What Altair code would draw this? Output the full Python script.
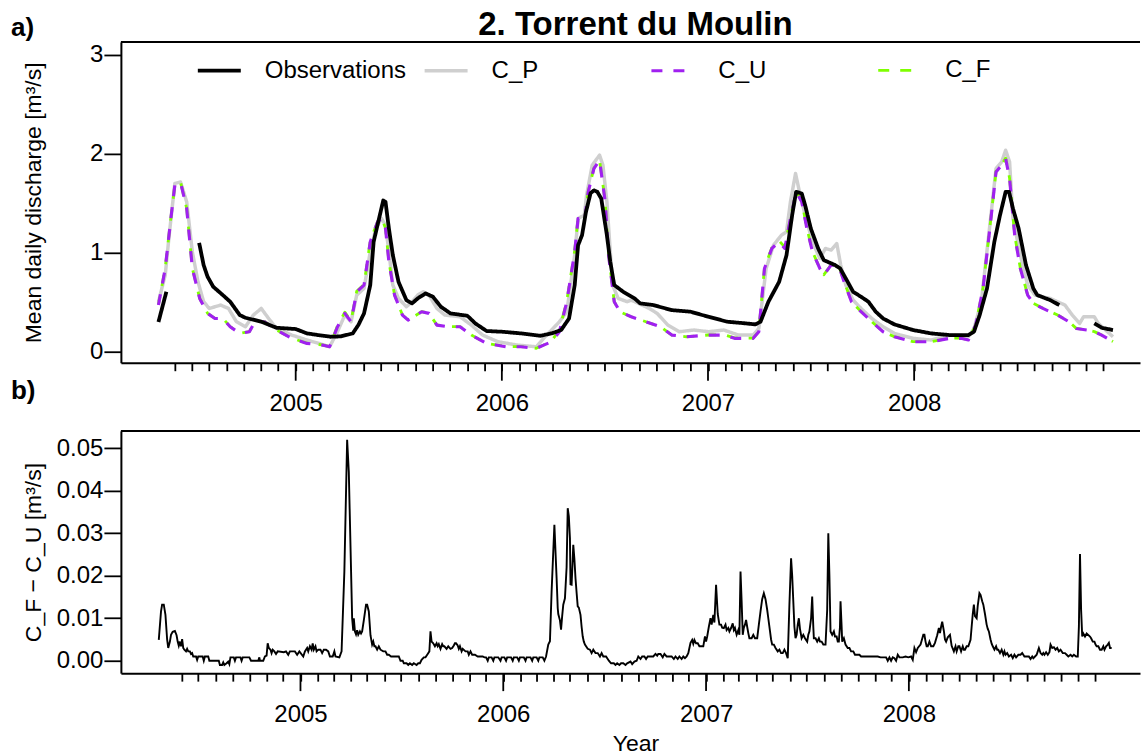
import altair as alt
import pandas as pd

FONT = "Liberation Sans"
BASE = pd.Timestamp("2004-01-01")
EPOCH = pd.Timestamp("1970-01-01")

# ---------------- data (x = days since 2004-01-01) ----------------
# Observations (three recorded segments)
obs1_days = [123, 137]
obs1_vals = [0.30, 0.605]
obs2_days = [195, 203, 210, 220, 237, 250, 267, 277, 305, 332,
             366, 386, 406, 428, 446, 467, 477, 487, 498, 504,
             515, 521, 525, 531, 538, 548, 562, 572, 582, 596,
             609, 623, 640, 670, 684, 704, 731, 765, 799, 819,
             836, 850, 860, 866, 873, 880, 888, 894, 900, 907,
             917, 923, 930, 946, 966, 976, 999, 1032, 1065, 1097,
             1130, 1163, 1180, 1189, 1203, 1222, 1235, 1245, 1252, 1262,
             1268, 1278, 1291, 1301, 1321, 1330, 1340, 1353, 1367, 1380,
             1393, 1406, 1426, 1459, 1491, 1524, 1557, 1567, 1577, 1590,
             1603, 1613, 1623, 1629, 1636, 1646, 1659, 1672, 1679, 1702,
             1718]
obs2_vals = [1.10, 0.875, 0.757, 0.656, 0.572, 0.505, 0.37, 0.343, 0.303, 0.242,
             0.229, 0.185, 0.168, 0.151, 0.155, 0.185, 0.27, 0.387, 0.673, 1.11,
             1.38, 1.527, 1.514, 1.245, 0.975, 0.706, 0.521, 0.488, 0.538, 0.589,
             0.555, 0.454, 0.387, 0.363, 0.286, 0.209, 0.202, 0.185, 0.161, 0.185,
             0.219, 0.336, 0.673, 1.076, 1.177, 1.413, 1.60, 1.63, 1.615, 1.547,
             1.177, 0.908, 0.673, 0.605, 0.538, 0.488, 0.471, 0.42, 0.404, 0.353,
             0.303, 0.286, 0.276, 0.303, 0.505, 0.706, 0.975, 1.379, 1.615, 1.598,
             1.48, 1.245, 1.043, 0.925, 0.875, 0.841, 0.74, 0.605, 0.555, 0.505,
             0.404, 0.336, 0.276, 0.219, 0.185, 0.168, 0.168, 0.202, 0.37, 0.639,
             1.11, 1.379, 1.615, 1.615, 1.446, 1.245, 0.875, 0.639, 0.572, 0.521,
             0.471]
obs3_days = [1780, 1793, 1813]
obs3_vals = [0.286, 0.242, 0.219]

# C_P
cp_days = [123, 135, 142, 152, 162, 173, 183, 193, 203, 213,
           223, 233, 247, 261, 277, 291, 305, 318, 332, 359,
           386, 413, 426, 440, 453, 464, 474, 487, 498, 508,
           518, 525, 531, 538, 548, 562, 572, 582, 592, 602,
           616, 630, 657, 677, 697, 724, 758, 792, 805, 819,
           833, 846, 860, 866, 877, 881, 891, 904, 910, 917,
           927, 937, 953, 960, 973, 992, 1006, 1025, 1045, 1071,
           1097, 1124, 1150, 1176, 1186, 1199, 1212, 1226, 1235, 1242,
           1251, 1258, 1268, 1281, 1294, 1304, 1314, 1324, 1331, 1340,
           1353, 1367, 1386, 1406, 1426, 1459, 1491, 1524, 1541, 1557,
           1567, 1580, 1597, 1606, 1616, 1623, 1630, 1636, 1649, 1662,
           1675, 1702, 1728, 1741, 1754, 1761, 1780, 1787, 1800, 1813]
cp_vals = [0.505, 0.774, 1.177, 1.699, 1.715, 1.514, 1.009, 0.706, 0.505, 0.437,
           0.454, 0.471, 0.437, 0.303, 0.252, 0.37, 0.437, 0.336, 0.235, 0.168,
           0.118, 0.074, 0.05, 0.202, 0.37, 0.303, 0.572, 0.639, 1.009, 1.245,
           1.345, 1.278, 1.009, 0.673, 0.538, 0.454, 0.505, 0.572, 0.605, 0.572,
           0.437, 0.37, 0.353, 0.269, 0.168, 0.101, 0.067, 0.05, 0.135, 0.219,
           0.303, 0.404, 0.975, 1.345, 1.379, 1.58, 1.884, 1.985, 1.884, 1.514,
           0.673, 0.538, 0.505, 0.521, 0.488, 0.437, 0.387, 0.269, 0.202, 0.219,
           0.202, 0.219, 0.168, 0.168, 0.235, 0.841, 1.076, 1.177, 1.211, 1.514,
           1.8, 1.615, 1.379, 1.11, 0.942, 1.043, 1.026, 1.093, 0.875, 0.673,
           0.521, 0.437, 0.336, 0.252, 0.185, 0.135, 0.118, 0.168, 0.168, 0.151,
           0.235, 0.505, 1.379, 1.85, 1.917, 2.035, 1.917, 1.345, 0.975, 0.673,
           0.572, 0.538, 0.471, 0.37, 0.286, 0.353, 0.353, 0.286, 0.219, 0.151]

# C_U and C_F (same dates)
cu_days = [123, 135, 145, 152, 162, 173, 183, 196, 210, 223,
           237, 250, 267, 284, 294, 311, 332, 359, 386, 413,
           426, 440, 453, 464, 474, 487, 498, 511, 518, 525,
           531, 541, 555, 565, 575, 589, 602, 616, 636, 657,
           677, 704, 738, 765, 792, 805, 819, 833, 846, 860,
           866, 877, 884, 894, 904, 914, 920, 930, 940, 960,
           986, 1012, 1032, 1058, 1097, 1124, 1143, 1176, 1186, 1196,
           1209, 1222, 1232, 1242, 1252, 1262, 1271, 1281, 1294, 1301,
           1314, 1327, 1337, 1350, 1367, 1386, 1406, 1426, 1459, 1491,
           1524, 1544, 1557, 1570, 1583, 1597, 1606, 1616, 1623, 1630,
           1639, 1649, 1662, 1672, 1689, 1715, 1735, 1748, 1767, 1780,
           1793, 1813]
cu_vals = [0.471, 0.841, 1.345, 1.682, 1.715, 1.446, 0.841, 0.538, 0.387, 0.336,
           0.336, 0.252, 0.185, 0.202, 0.303, 0.303, 0.219, 0.135, 0.084, 0.067,
           0.05, 0.252, 0.387, 0.303, 0.605, 0.673, 1.11, 1.312, 1.345, 1.245,
           0.908, 0.572, 0.37, 0.32, 0.353, 0.404, 0.387, 0.269, 0.252, 0.252,
           0.168, 0.084, 0.05, 0.05, 0.034, 0.067, 0.101, 0.202, 0.505, 1.009,
           1.345, 1.312, 1.615, 1.85, 1.934, 1.514, 0.975, 0.505, 0.404, 0.353,
           0.303, 0.252, 0.168, 0.151, 0.168, 0.168, 0.135, 0.135, 0.202, 0.841,
           1.043, 1.11, 1.043, 1.345, 1.615, 1.514, 1.245, 1.009, 0.841, 0.774,
           0.875, 0.875, 0.706, 0.505, 0.404, 0.303, 0.202, 0.151, 0.101, 0.101,
           0.135, 0.135, 0.118, 0.269, 0.639, 1.345, 1.816, 1.884, 1.951, 1.749,
           1.177, 0.841, 0.572, 0.488, 0.437, 0.37, 0.303, 0.235, 0.219, 0.202,
           0.168, 0.101]
cf_vals = [0.476, 0.846, 1.350, 1.684, 1.716, 1.447, 0.842, 0.539, 0.388, 0.337,
           0.337, 0.253, 0.186, 0.203, 0.304, 0.305, 0.221, 0.137, 0.086, 0.069,
           0.051, 0.262, 0.400, 0.310, 0.610, 0.680, 1.118, 1.314, 1.347, 1.247,
           0.910, 0.573, 0.371, 0.321, 0.354, 0.405, 0.388, 0.270, 0.253, 0.253,
           0.169, 0.085, 0.051, 0.051, 0.035, 0.068, 0.110, 0.220, 0.515, 1.020,
           1.355, 1.322, 1.620, 1.853, 1.936, 1.516, 0.976, 0.505, 0.404, 0.353,
           0.303, 0.252, 0.168, 0.151, 0.169, 0.172, 0.139, 0.138, 0.205, 0.846,
           1.050, 1.120, 1.056, 1.354, 1.625, 1.520, 1.249, 1.011, 0.843, 0.776,
           0.878, 0.878, 0.708, 0.507, 0.405, 0.304, 0.203, 0.152, 0.102, 0.102,
           0.137, 0.138, 0.120, 0.272, 0.644, 1.352, 1.823, 1.889, 1.955, 1.751,
           1.178, 0.842, 0.573, 0.489, 0.438, 0.371, 0.304, 0.236, 0.220, 0.203,
           0.169, 0.103]

# C_F - C_U difference (panel b): (day, value)
diff_points = [
    (111, 0.0049), (115, 0.0116), (117, 0.0132), (120, 0.0132), (123, 0.0108), (126, 0.005),
    (128, 0.003), (131, 0.0045), (133, 0.0061), (136, 0.0068), (140, 0.007), (143, 0.006),
    (145, 0.0045), (147, 0.0035), (149, 0.0045), (151, 0.0034), (153, 0.0051), (155, 0.003),
    (157, 0.0026), (160, 0.0022), (162, 0.0028), (164, 0.0022), (167, 0.0022), (169, 0.0016),
    (171, 0.0018), (173, 0.001), (175, 0.001), (178, 0.001), (180, 0.0002), (182, 0.001),
    (190, 0.001), (192, 0.0), (194, 0.001), (200, 0.001), (202, 0.0), (219, 0.0),
    (221, -0.001), (225, -0.001), (227, -0.0004), (229, -0.001), (233, -0.0006), (236, -0.0002),
    (238, -0.0008), (240, 0.0008), (246, 0.0008), (248, 0.0), (250, 0.0008), (258, 0.0008),
    (260, 0.0), (262, 0.0008), (274, 0.0008), (277, 0.0), (290, 0.0), (292, 0.0008),
    (293, 0.0), (299, 0.0), (302, 0.001), (305, 0.0012), (307, 0.0041), (309, 0.003),
    (312, 0.0026), (314, 0.0018), (316, 0.0026), (319, 0.0022), (322, 0.0016), (325, 0.0022),
    (336, 0.002), (340, 0.0022), (344, 0.0014), (347, 0.0022), (356, 0.0022), (360, 0.0014),
    (364, 0.0022), (371, 0.001), (374, 0.0022), (378, 0.003), (380, 0.0022), (383, 0.0034),
    (386, 0.0026), (388, 0.0041), (390, 0.0026), (393, 0.0034), (395, 0.0022), (398, 0.0026),
    (402, 0.0026), (405, 0.0018), (408, 0.0026), (412, 0.0026), (416, 0.0022), (419, 0.001),
    (424, 0.001), (427, 0.0022), (429, 0.001), (436, 0.0008), (440, 0.0022), (445, 0.021),
    (450, 0.052), (453, 0.0445), (459, 0.01), (461, 0.0071), (462, 0.01), (464, 0.0069),
    (466, 0.0062), (468, 0.0072), (470, 0.0061), (473, 0.0069), (475, 0.0064), (477, 0.0069),
    (480, 0.0095), (484, 0.0132), (486, 0.0132), (489, 0.0116), (492, 0.006), (495, 0.0038),
    (497, 0.0045), (499, 0.0034), (501, 0.0034), (504, 0.0026), (507, 0.0034), (510, 0.0026),
    (515, 0.0022), (519, 0.0022), (522, 0.0014), (525, 0.0014), (529, 0.001), (543, 0.001),
    (546, 0.0), (550, 0.0), (552, -0.0006), (557, -0.0006), (560, -0.001), (563, -0.0006),
    (567, -0.001), (570, -0.0006), (575, -0.001), (578, -0.0006), (581, -0.0006), (584, 0.0002),
    (588, 0.0008), (591, 0.0008), (595, 0.0016), (598, 0.0022), (600, 0.0069), (602, 0.0045),
    (605, 0.0041), (608, 0.0034), (611, 0.0041), (613, 0.0034), (615, 0.0039), (618, 0.0028),
    (621, 0.0039), (623, 0.0034), (625, 0.0034), (629, 0.0028), (632, 0.0034), (636, 0.0028),
    (639, 0.003), (642, 0.0036), (644, 0.0041), (646, 0.0041), (649, 0.0036), (651, 0.0028),
    (653, 0.0034), (656, 0.0022), (658, 0.0028), (663, 0.0022), (667, 0.0022), (669, 0.0014),
    (672, 0.0022), (675, 0.0014), (680, 0.0014), (685, 0.001), (694, 0.001), (697, 0.0008),
    (700, 0.0008), (703, 0.0), (705, 0.0008), (710, 0.0008), (713, 0.0), (715, 0.0008),
    (722, 0.0008), (726, 0.0), (728, 0.0008), (733, 0.0008), (736, 0.0), (738, 0.0008),
    (745, 0.0008), (748, 0.0), (750, 0.0008), (756, 0.0008), (759, 0.0), (761, 0.0008),
    (768, 0.0008), (771, 0.0), (773, 0.0008), (780, 0.0008), (783, 0.0), (785, 0.0008),
    (791, 0.0008), (794, 0.0), (796, 0.0008), (802, 0.0008), (805, 0.0), (808, 0.001),
    (812, 0.0038), (815, 0.0046), (818, 0.0163), (823, 0.032), (827, 0.0194), (829, 0.0124),
    (830, 0.011), (833, 0.0095), (835, 0.0073), (837, 0.0105), (839, 0.0132), (842, 0.0147),
    (845, 0.022), (847, 0.0359), (849, 0.034), (851, 0.0288), (852, 0.018), (854, 0.0179),
    (856, 0.024), (857, 0.0273), (859, 0.024), (861, 0.0194), (863, 0.016), (865, 0.0128),
    (867, 0.0125), (870, 0.0108), (872, 0.008), (874, 0.0057), (876, 0.0045), (878, 0.0038),
    (880, 0.0034), (883, 0.0028), (887, 0.0026), (890, 0.0018), (893, 0.0026), (897, 0.0018),
    (901, 0.0018), (905, 0.001), (908, 0.0018), (911, 0.001), (916, 0.001), (921, 0.0),
    (925, -0.0006), (930, -0.0006), (933, -0.001), (936, -0.0006), (940, -0.001), (943, -0.0006),
    (947, -0.0006), (951, -0.001), (954, -0.0006), (960, -0.0002), (963, -0.0008), (967, -0.0002),
    (971, 0.0), (974, 0.001), (978, 0.0004), (981, 0.001), (985, 0.001), (988, 0.0004),
    (991, 0.001), (1001, 0.001), (1005, 0.0016), (1008, 0.0012), (1010, 0.0016), (1014, 0.0016),
    (1018, 0.0008), (1021, 0.0016), (1025, 0.001), (1034, 0.001), (1038, 0.0004), (1041, 0.001),
    (1045, 0.0004), (1048, 0.001), (1052, 0.0004), (1055, 0.001), (1058, 0.0006), (1061, 0.001),
    (1064, 0.0018), (1066, 0.003), (1068, 0.0042), (1071, 0.0049), (1073, 0.004), (1075, 0.0049),
    (1078, 0.0041), (1081, 0.0041), (1084, 0.0034), (1091, 0.0034), (1094, 0.0057), (1096, 0.0045),
    (1098, 0.0057), (1101, 0.008), (1104, 0.01), (1106, 0.0085), (1109, 0.0108), (1111, 0.009),
    (1114, 0.0179), (1117, 0.011), (1120, 0.0085), (1123, 0.0085), (1125, 0.0078), (1128, 0.0077),
    (1131, 0.0085), (1133, 0.0072), (1136, 0.0077), (1138, 0.0069), (1141, 0.0077), (1144, 0.0088),
    (1146, 0.0072), (1148, 0.0077), (1151, 0.0061), (1154, 0.0072), (1156, 0.0061), (1158, 0.021),
    (1160, 0.014), (1162, 0.0061), (1164, 0.0078), (1166, 0.0085), (1168, 0.0096), (1170, 0.008),
    (1172, 0.0065), (1174, 0.0053), (1178, 0.0053), (1181, 0.0061), (1184, 0.0053), (1188, 0.0053),
    (1191, 0.0085), (1194, 0.0116), (1197, 0.0145), (1200, 0.0159), (1203, 0.0145), (1206, 0.012),
    (1208, 0.01), (1211, 0.007), (1213, 0.005), (1215, 0.0038), (1218, 0.0038), (1221, 0.003),
    (1225, 0.0022), (1228, 0.0026), (1231, 0.0018), (1234, 0.0018), (1237, 0.0026), (1240, 0.0018),
    (1243, 0.0006), (1246, 0.0132), (1249, 0.0241), (1251, 0.02), (1253, 0.014), (1255, 0.008),
    (1257, 0.0053), (1259, 0.0061), (1261, 0.0085), (1263, 0.01), (1265, 0.0075), (1268, 0.0053),
    (1271, 0.0061), (1274, 0.0053), (1278, 0.0045), (1280, 0.0061), (1282, 0.0069), (1285, 0.01),
    (1287, 0.0151), (1289, 0.008), (1290, 0.0053), (1293, 0.0053), (1296, 0.0045), (1299, 0.0053),
    (1301, 0.0045), (1304, 0.0045), (1307, 0.0038), (1311, 0.0038), (1314, 0.012), (1316, 0.03),
    (1318, 0.02), (1320, 0.0069), (1323, 0.0061), (1326, 0.0069), (1328, 0.0057), (1331, 0.0057),
    (1333, 0.0045), (1335, 0.0045), (1337, 0.008), (1338, 0.014), (1340, 0.008), (1341, 0.0045),
    (1344, 0.0053), (1347, 0.0038), (1351, 0.003), (1354, 0.003), (1357, 0.0022), (1361, 0.0022),
    (1364, 0.0014), (1372, 0.0014), (1375, 0.001), (1405, 0.001), (1410, 0.0008), (1420, 0.0008),
    (1423, 0.0), (1426, 0.0008), (1429, 0.0), (1432, 0.0008), (1435, 0.0006), (1438, 0.0),
    (1441, 0.0014), (1444, 0.0008), (1450, 0.0008), (1455, 0.001), (1460, 0.0008), (1465, 0.001),
    (1468, 0.0002), (1471, 0.003), (1474, 0.002), (1477, 0.003), (1482, 0.0038), (1485, 0.0052),
    (1487, 0.0061), (1489, 0.0061), (1491, 0.0045), (1493, 0.0034), (1495, 0.0034), (1498, 0.0045),
    (1501, 0.0034), (1505, 0.0034), (1508, 0.0042), (1512, 0.006), (1515, 0.0077), (1517, 0.0065),
    (1519, 0.008), (1521, 0.0092), (1524, 0.007), (1526, 0.005), (1528, 0.0045), (1531, 0.0055),
    (1535, 0.0061), (1538, 0.0035), (1542, 0.0022), (1545, 0.0034), (1547, 0.0022), (1550, 0.0034),
    (1552, 0.0034), (1555, 0.0022), (1558, 0.0034), (1560, 0.0026), (1562, 0.0026), (1565, 0.0034),
    (1568, 0.0034), (1572, 0.0049), (1574, 0.008), (1576, 0.011), (1578, 0.0132), (1580, 0.0105),
    (1583, 0.01), (1585, 0.013), (1588, 0.0159), (1590, 0.0155), (1593, 0.014), (1595, 0.0132),
    (1598, 0.011), (1601, 0.0085), (1603, 0.0075), (1605, 0.0069), (1608, 0.005), (1610, 0.004),
    (1612, 0.0034), (1615, 0.0026), (1618, 0.0034), (1620, 0.0026), (1622, 0.0026), (1625, 0.0018),
    (1628, 0.0026), (1631, 0.0014), (1633, 0.0022), (1635, 0.0014), (1638, 0.0018), (1641, 0.001),
    (1645, 0.0014), (1648, 0.0006), (1651, 0.0014), (1654, 0.0008), (1658, 0.0014), (1662, 0.0014),
    (1665, 0.0018), (1669, 0.001), (1677, 0.001), (1680, 0.0004), (1683, 0.001), (1685, 0.0006),
    (1688, 0.001), (1691, 0.0014), (1693, 0.0022), (1695, 0.003), (1698, 0.0018), (1701, 0.0014),
    (1703, 0.0018), (1705, 0.0014), (1708, 0.002), (1711, 0.0014), (1714, 0.002), (1716, 0.0038),
    (1719, 0.003), (1722, 0.0032), (1725, 0.0026), (1728, 0.003), (1731, 0.0022), (1734, 0.0026),
    (1738, 0.0018), (1742, 0.0018), (1745, 0.0014), (1748, 0.001), (1752, 0.0014), (1755, 0.001),
    (1758, 0.0014), (1762, 0.001), (1765, 0.001), (1767, 0.008), (1769, 0.0251), (1771, 0.012),
    (1773, 0.0057), (1775, 0.0064), (1778, 0.0057), (1781, 0.0064), (1787, 0.0057), (1789, 0.0053),
    (1792, 0.0045), (1795, 0.0045), (1797, 0.0038), (1799, 0.0034), (1802, 0.0034), (1805, 0.0026),
    (1808, 0.0026), (1811, 0.0034), (1813, 0.0026), (1816, 0.0034), (1819, 0.0038), (1821, 0.0042),
    (1823, 0.003), (1826, 0.003),
]

SERIES = ["Observations", "C_P", "C_U", "C_F"]
COLORS = ["#000000", "#cfcfcf", "#a020f0", "#7fff00"]
DASHES = [[1, 0], [1, 0], [11, 11], [11, 11]]
WIDTHS = [3.8, 2.8, 3.4, 2.6]

TITLE = "2. Torrent du Moulin"
YTITLE_TOP = "Mean daily discharge [m\u00b3/s]"
YTITLE_BOT = "C_F \u2212 C_U [m\u00b3/s]"
XTITLE = "Year"
YEAR_STARTS = ["2005-01-01", "2006-01-01", "2007-01-01", "2008-01-01"]


def day_ms(d):
    return float((BASE + pd.Timedelta(days=d) - EPOCH) / pd.Timedelta(milliseconds=1))


def ts_ms(t):
    return float((pd.Timestamp(t) - EPOCH) / pd.Timedelta(milliseconds=1))


rows = []
for seg, (ds, vs) in enumerate([(obs1_days, obs1_vals), (obs2_days, obs2_vals), (obs3_days, obs3_vals)]):
    for d, v in zip(ds, vs):
        rows.append({"series": "Observations", "seg": seg, "date": day_ms(d), "q": v})
for name, ds, vs in [("C_P", cp_days, cp_vals), ("C_U", cu_days, cu_vals), ("C_F", cu_days, cf_vals)]:
    for d, v in zip(ds, vs):
        rows.append({"series": name, "seg": 0, "date": day_ms(d), "q": v})
df_top = pd.DataFrame(rows)
df_bot = pd.DataFrame({"date": [day_ms(d) for d, _ in diff_points], "q": [v for _, v in diff_points]})
df_years = pd.DataFrame({"date": [ts_ms(t) for t in YEAR_STARTS]})

# ---------------- layout ----------------
W = 1020
H_TOP = 321
H_BOT = 242.4
month_ticks = [ts_ms(t) for t in pd.date_range("2004-06-01", "2008-12-01", freq="MS")]
YEAR_TEST = "utcmonth(datum.value) == 0"


def x_axis(pad, **kw):
    return alt.Axis(values=month_ticks,
                    labelExpr=f"{YEAR_TEST} ? utcFormat(datum.value, '%Y') : ''",
                    tickSize=8, tickWidth=1.8, tickColor="black", domainWidth=2, domainColor="black",
                    labelFontSize=24, labelFont=FONT, labelColor="black", labelPadding=pad,
                    labelOverlap=False, labelFlush=False, grid=False, **kw)


def y_axis(values, fmt, title, h):
    return alt.Axis(values=values, format=fmt, title=title, titleFont=FONT, titleFontSize=23,
                    titleFontWeight="normal", titleColor="black", titleX=-87, titleY=h / 2,
                    titleAngle=270, titleBaseline="middle", titleAlign="center",
                    labelFontSize=24, labelFont=FONT, labelColor="black", labelPadding=1,
                    tickSize=17, tickWidth=1.8, tickColor="black", domainWidth=2,
                    domainColor="black", grid=False)


leg = alt.Legend(title=None, orient="none", legendX=75, legendY=5, direction="horizontal",
                 columns=4, gridAlign="all", columnPadding=11, symbolType="stroke",
                 symbolSize=1849, labelFont=FONT, labelFontSize=24, labelOffset=22,
                 labelColor="black", padding=0, rowPadding=0)

x_top = alt.X("date:T", scale=alt.Scale(type="utc", domain=[day_ms(56.5), day_ms(1860.9)], nice=False),
              axis=x_axis(20.7, title=None))
y_top = alt.Y("q:Q", scale=alt.Scale(domain=[-0.111, 3.128], nice=False, zero=False),
              axis=y_axis([0, 1, 2, 3], "d", YTITLE_TOP, H_TOP))

base = alt.Chart(df_top).encode(
    x=x_top, y=y_top,
    color=alt.Color("series:N", scale=alt.Scale(domain=SERIES, range=COLORS), legend=leg),
    strokeDash=alt.StrokeDash("series:N", scale=alt.Scale(domain=SERIES, range=DASHES), legend=leg),
    strokeWidth=alt.StrokeWidth("series:N", scale=alt.Scale(domain=SERIES, range=WIDTHS), legend=leg),
    detail="seg:N",
)
l_cp = base.transform_filter("datum.series == 'C_P'").mark_line(strokeJoin="round")
l_cf = base.transform_filter("datum.series == 'C_F'").mark_line(strokeJoin="round", strokeDashOffset=3)
l_cu = base.transform_filter("datum.series == 'C_U'").mark_line(strokeJoin="round")
l_ob = base.transform_filter("datum.series == 'Observations'").mark_line(strokeJoin="round")

major_top = alt.Chart(df_years).mark_rule(color="black", strokeWidth=1.8).encode(
    x=x_top, y=alt.value(H_TOP), y2=alt.value(H_TOP + 18))

one = pd.DataFrame({"k": [0]})
top_rule = alt.Chart(one).mark_rule(color="black", strokeWidth=2).encode(
    x=alt.value(0), x2=alt.value(W), y=alt.value(0))
title_mark = alt.Chart(pd.DataFrame({"t": [TITLE]})).mark_text(
    font=FONT, fontSize=33, fontWeight="bold", align="center", baseline="alphabetic", color="black"
).encode(text="t:N", x=alt.value(515), y=alt.value(-7))
a_mark = alt.Chart(pd.DataFrame({"t": ["a)"]})).mark_text(
    font=FONT, fontSize=26, fontWeight="bold", align="left", baseline="alphabetic", color="black"
).encode(text="t:N", x=alt.value(-110), y=alt.value(-5.5))

top = alt.layer(l_cp, l_cf, l_cu, l_ob, major_top, top_rule, title_mark, a_mark).properties(
    width=W, height=H_TOP)

x_bot = alt.X("date:T", scale=alt.Scale(type="utc", domain=[day_ms(42.8), day_ms(1877.0)], nice=False),
              axis=x_axis(21.6, title=XTITLE, titleFont=FONT, titleFontSize=23, titleFontWeight="normal",
                          titleColor="black", titleX=515, titleY=77, titleBaseline="alphabetic",
                          titleAlign="center"))
y_bot = alt.Y("q:Q", scale=alt.Scale(domain=[-0.00292, 0.05409], nice=False, zero=False),
              axis=y_axis([0, 0.01, 0.02, 0.03, 0.04, 0.05], ".2f", YTITLE_BOT, H_BOT))

bot_line = alt.Chart(df_bot).mark_line(color="black", strokeWidth=1.9, strokeJoin="miter").encode(
    x=x_bot, y=y_bot)
major_bot = alt.Chart(df_years).mark_rule(color="black", strokeWidth=1.8).encode(
    x=x_bot, y=alt.value(H_BOT), y2=alt.value(H_BOT + 18))
bot_rule = alt.Chart(one).mark_rule(color="black", strokeWidth=2).encode(
    x=alt.value(0), x2=alt.value(W), y=alt.value(0))
b_mark = alt.Chart(pd.DataFrame({"t": ["b)"]})).mark_text(
    font=FONT, fontSize=26, fontWeight="bold", align="left", baseline="alphabetic", color="black"
).encode(text="t:N", x=alt.value(-110), y=alt.value(-31.5))

bottom = alt.layer(bot_line, major_bot, bot_rule, b_mark).properties(width=W, height=H_BOT)

chart = alt.vconcat(top, bottom, spacing=68.3, bounds="flush").resolve_scale(
    x="independent", y="independent", color="independent",
    strokeDash="independent", strokeWidth="independent"
).properties(
    padding={"left": 10, "top": 7.7, "right": 0, "bottom": 0}
).configure_view(stroke="transparent").configure_axis(labelFont=FONT, titleFont=FONT)

chart.save("out.html", embed_options={"renderer": "svg", "actions": False})
